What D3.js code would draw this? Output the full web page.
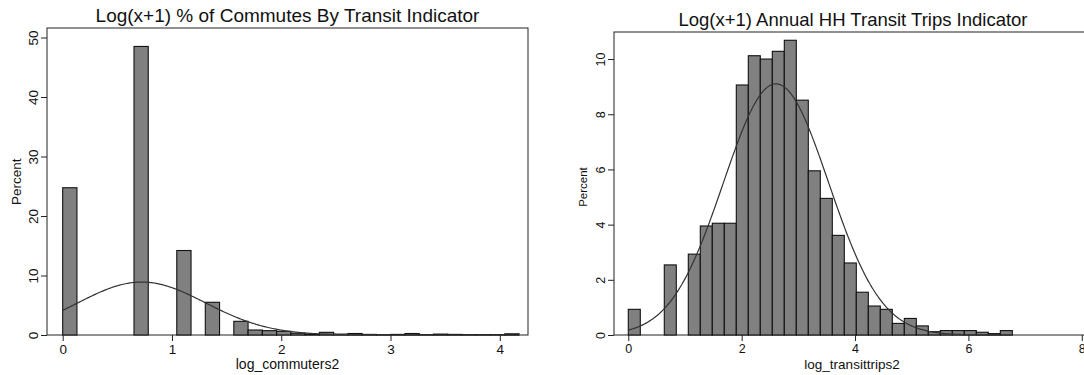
<!DOCTYPE html>
<html>
<head>
<meta charset="utf-8">
<script src="https://cdn.jsdelivr.net/npm/d3@7"></script>
<style>
  html, body { margin: 0; padding: 0; background: #fff; }
  svg { display: block; }
  text { font-family: "Liberation Sans", Arial, Helvetica, sans-serif; fill: #111; }
</style>
</head>
<body>
<svg id="chart" width="1084" height="375"></svg>
<script>
// ---------- data ----------
const leftTitle = "Log(x+1) % of Commutes By Transit Indicator";
const leftXLabel = "log_commuters2";
const leftBinWidth = 0.1305;
const leftPercent = [24.75, 0, 0, 0, 0, 48.5, 0, 0, 14.2, 0, 5.5, 0, 2.3, 0.84, 0.73, 0.62,
                     0.3, 0.15, 0.45, 0.15, 0.25, 0.1, 0.05, 0.1, 0.25, 0.05, 0.15, 0.1, 0.05, 0.05, 0.05, 0.2];
const leftNormalMean = 0.723;
const leftNormalSd = 0.585;
const leftXTicks = [0, 1, 2, 3, 4];
const leftYTicks = [0, 10, 20, 30, 40, 50];

const rightTitle = "Log(x+1) Annual HH Transit Trips Indicator";
const rightXLabel = "log_transittrips2";
const rightBinWidth = 0.2117;
const rightPercent = [0.93, 0, 0, 2.54, 0, 2.93, 3.95, 4.05, 4.05, 9.06, 10.12, 10.0, 10.28, 10.68, 8.51, 5.95,
                      4.95, 3.61, 2.61, 1.55, 1.05, 0.93, 0.42, 0.6, 0.33, 0.12, 0.16, 0.16, 0.16, 0.1, 0.05, 0.16];
const rightNormalMean = 2.606;
const rightNormalSd = 0.928;
const rightXTicks = [0, 2, 4, 6, 8];
const rightYTicks = [0, 2, 4, 6, 8, 10];

const yLabel = "Percent";

// ---------- drawing ----------
const svg = d3.select("#chart");

function drawHist(cfg) {
  const g = svg.append("g");
  const x = d3.scaleLinear().domain(cfg.xDomain).range([cfg.left, cfg.right]);
  const y = d3.scaleLinear().domain(cfg.yDomain).range([cfg.bottom, cfg.top]);

  // frame
  g.append("rect")
    .attr("x", cfg.left).attr("y", cfg.top)
    .attr("width", cfg.right - cfg.left).attr("height", cfg.bottom - cfg.top)
    .attr("fill", "none").attr("stroke", "#222").attr("stroke-width", 1);

  // bars
  const bins = cfg.values.map((v, i) => ({x0: i * cfg.binWidth, x1: (i + 1) * cfg.binWidth, v}))
                         .filter(d => d.v > 0);
  g.selectAll("rect.bar").data(bins).enter().append("rect")
    .attr("class", "bar")
    .attr("x", d => x(d.x0))
    .attr("y", d => y(d.v))
    .attr("width", d => x(d.x1) - x(d.x0))
    .attr("height", d => y(0) - y(d.v))
    .attr("fill", "#808080")
    .attr("stroke", "#111")
    .attr("stroke-width", 1.1);

  // normal density overlay (percent scale)
  const xMax = cfg.values.length * cfg.binWidth;
  const pts = d3.range(0, 401).map(i => {
    const xv = xMax * i / 400;
    const z = (xv - cfg.mean) / cfg.sd;
    return [xv, 100 * cfg.binWidth * Math.exp(-0.5 * z * z) / (cfg.sd * Math.sqrt(2 * Math.PI))];
  });
  g.append("path")
    .attr("d", d3.line().x(d => x(d[0])).y(d => y(d[1]))(pts))
    .attr("fill", "none").attr("stroke", "#333").attr("stroke-width", 1.2);

  // x axis
  const xa = g.append("g").attr("transform", `translate(0,${cfg.bottom})`)
    .call(d3.axisBottom(x).tickValues(cfg.xTicks).tickSize(6).tickPadding(3).tickFormat(d3.format("d")));
  xa.select(".domain").remove();
  xa.selectAll("line").attr("stroke", "#222");
  xa.selectAll("text").attr("font-size", cfg.tickFs).attr("fill", "#111")
    .attr("font-family", '"Liberation Sans", Arial, sans-serif');

  // y axis
  const ya = g.append("g").attr("transform", `translate(${cfg.left},0)`)
    .call(d3.axisLeft(y).tickValues(cfg.yTicks).tickSize(6).tickFormat(d3.format("d")));
  ya.select(".domain").remove();
  ya.selectAll("line").attr("stroke", "#222");
  ya.selectAll("text")
    .attr("font-size", cfg.tickFs).attr("fill", "#111")
    .attr("font-family", '"Liberation Sans", Arial, sans-serif')
    .attr("x", null).attr("dy", null)
    .attr("text-anchor", "middle")
    .attr("transform", `translate(${cfg.yTickBase - cfg.left},0) rotate(-90)`);

  // titles
  g.append("text")
    .attr("x", cfg.titleX).attr("y", cfg.titleY)
    .attr("text-anchor", "middle").attr("font-size", cfg.titleFs)
    .text(cfg.title);
  g.append("text")
    .attr("x", cfg.xLabelX).attr("y", cfg.xLabelY)
    .attr("text-anchor", "middle").attr("font-size", cfg.labelFs)
    .text(cfg.xLabel);
  g.append("text")
    .attr("transform", `translate(${cfg.yLabelX},${cfg.yLabelY}) rotate(-90)`)
    .attr("text-anchor", "middle").attr("font-size", cfg.yLabelFs)
    .text(yLabel);
}

drawHist({
  values: leftPercent, binWidth: leftBinWidth, mean: leftNormalMean, sd: leftNormalSd,
  xTicks: leftXTicks, yTicks: leftYTicks, title: leftTitle, xLabel: leftXLabel,
  left: 47, right: 528, top: 28, bottom: 335,
  xDomain: [-0.1436, 4.258], yDomain: [0, 51.6],
  tickFs: 13.5, titleFs: 19, labelFs: 14, yLabelFs: 13.5,
  yTickBase: 37.8,
  titleX: 287.5, titleY: 22, xLabelX: 287.5, xLabelY: 369, yLabelX: 20.7, yLabelY: 181.7
});

drawHist({
  values: rightPercent, binWidth: rightBinWidth, mean: rightNormalMean, sd: rightNormalSd,
  xTicks: rightXTicks, yTicks: rightYTicks, title: rightTitle, xLabel: rightXLabel,
  left: 614, right: 1092, top: 32, bottom: 335,
  xDomain: [-0.252, 8.18], yDomain: [0, 10.98],
  tickFs: 12.5, titleFs: 18.5, labelFs: 13.5, yLabelFs: 11.5,
  yTickBase: 604.5,
  titleX: 853, titleY: 25.5, xLabelX: 852, xLabelY: 369, yLabelX: 587, yLabelY: 187
});
</script>
</body>
</html>
